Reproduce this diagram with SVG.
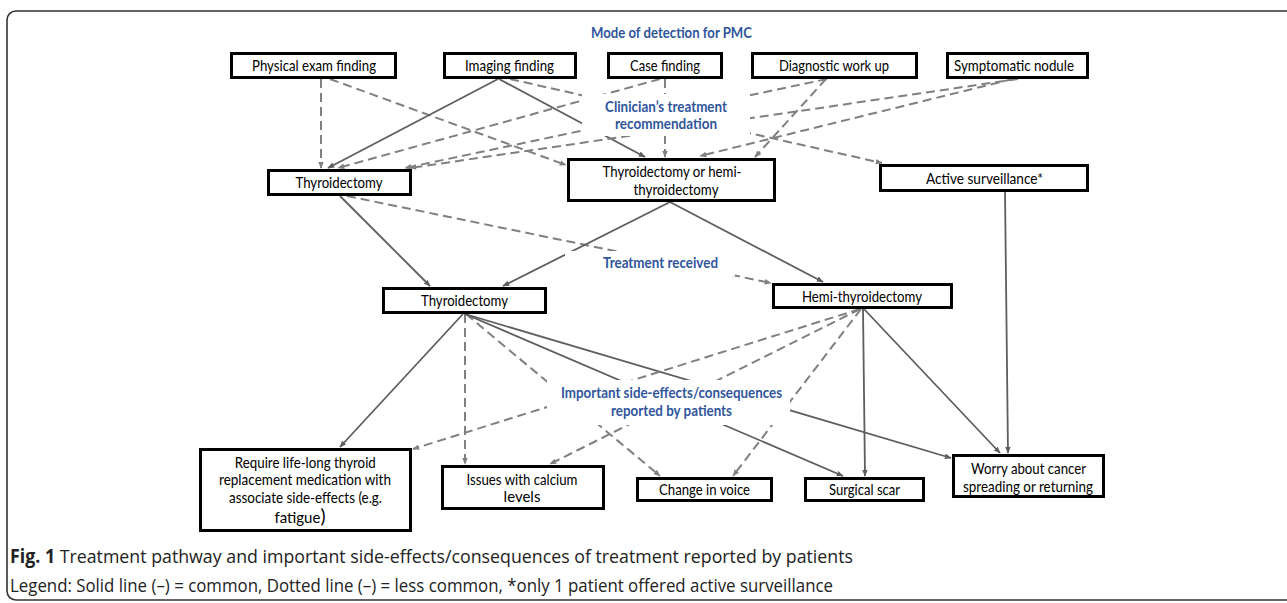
<svg xmlns="http://www.w3.org/2000/svg" width="1287" height="603" viewBox="0 0 1287 603">
<style>
.box{fill:#fff;stroke:#000;stroke-width:3}
.t{font-family:Lato,"Liberation Sans",sans-serif;font-size:15px;fill:#000;text-anchor:middle}
.lab{font-family:Lato,"Liberation Sans",sans-serif;font-size:15px;font-weight:bold;fill:#30569c;text-anchor:middle}
.s{stroke:#5e5e5e;stroke-width:1.8;fill:none}
.d{stroke:#808080;stroke-width:2;stroke-dasharray:9 5;fill:none}
.cap{font-family:"Open Sans","Liberation Sans",sans-serif;font-size:19px;fill:#222}
</style>
<defs>
<marker id="as" viewBox="0 0 10 10" refX="9" refY="5" markerWidth="7" markerHeight="7" markerUnits="userSpaceOnUse" orient="auto"><path d="M0,1 L10,5 L0,9 z" fill="#5e5e5e"/></marker>
<marker id="ad" viewBox="0 0 10 10" refX="9" refY="5" markerWidth="7" markerHeight="7" markerUnits="userSpaceOnUse" orient="auto"><path d="M0,1 L10,5 L0,9 z" fill="#808080"/></marker>
</defs>
<rect x="0" y="0" width="1287" height="603" fill="#fff"/>
<rect x="7" y="11" width="1300" height="589" rx="9" fill="none" stroke="#333" stroke-width="1.6"/>

<g id="connectors">
<line class="d" x1="321" y1="79" x2="321" y2="168" marker-end="url(#ad)"/>
<line class="d" x1="330" y1="79" x2="566" y2="165" marker-end="url(#ad)"/>
<line class="s" x1="498" y1="79" x2="328" y2="168" marker-end="url(#as)"/>
<line class="s" x1="499" y1="79" x2="645" y2="157" marker-end="url(#as)"/>
<line class="d" x1="510" y1="79" x2="882" y2="163" marker-end="url(#ad)"/>
<line class="d" x1="660" y1="79" x2="338" y2="168" marker-end="url(#ad)"/>
<line class="d" x1="665" y1="79" x2="665" y2="157" marker-end="url(#ad)"/>
<line class="d" x1="827" y1="79" x2="405" y2="168" marker-end="url(#ad)"/>
<line class="d" x1="826" y1="79" x2="755" y2="157" marker-end="url(#ad)"/>
<line class="d" x1="1018" y1="79" x2="410" y2="168" marker-end="url(#ad)"/>
<line class="d" x1="1013" y1="79" x2="700" y2="156" marker-end="url(#ad)"/>

<line class="s" x1="340" y1="196" x2="430" y2="286" marker-end="url(#as)"/>
<line class="d" x1="347" y1="196" x2="771" y2="283" marker-end="url(#ad)"/>
<line class="s" x1="670" y1="202" x2="503" y2="286" marker-end="url(#as)"/>
<line class="s" x1="670" y1="202" x2="823" y2="282" marker-end="url(#as)"/>
<line class="s" x1="1005" y1="192" x2="1008" y2="453" marker-end="url(#as)"/>

<line class="s" x1="463" y1="314" x2="340" y2="447" marker-end="url(#as)"/>
<line class="d" x1="465" y1="314" x2="465" y2="464" marker-end="url(#ad)"/>
<line class="d" x1="466" y1="314" x2="660" y2="476" marker-end="url(#ad)"/>
<line class="s" x1="465" y1="314" x2="843" y2="476" marker-end="url(#as)"/>
<line class="s" x1="465" y1="314" x2="951" y2="458" marker-end="url(#as)"/>
<line class="d" x1="860" y1="309" x2="413" y2="449" marker-end="url(#ad)"/>
<line class="d" x1="860" y1="309" x2="550" y2="464" marker-end="url(#ad)"/>
<line class="d" x1="861" y1="309" x2="733" y2="476" marker-end="url(#ad)"/>
<line class="s" x1="863" y1="309" x2="865" y2="476" marker-end="url(#as)"/>
<line class="s" x1="864" y1="309" x2="1000" y2="453" marker-end="url(#as)"/>
</g>

<g id="label-mode"><text class="lab" x="671.5" y="38" textLength="161" lengthAdjust="spacingAndGlyphs">Mode of detection for PMC</text></g>
<g id="label-clinician">
<rect x="582" y="94" width="168" height="42" fill="#fff"/>
<text class="lab" x="666" y="112" textLength="122" lengthAdjust="spacingAndGlyphs">Clinician’s treatment</text>
<text class="lab" x="666" y="129" textLength="102" lengthAdjust="spacingAndGlyphs">recommendation</text>
</g>
<g id="label-received">
<rect x="565" y="251" width="170" height="25" fill="#fff"/>
<text class="lab" x="660.5" y="268" textLength="115" lengthAdjust="spacingAndGlyphs">Treatment received</text>
</g>
<g id="label-side">
<rect x="547" y="380" width="243" height="45" fill="#fff"/>
<text class="lab" x="671.5" y="398" textLength="221" lengthAdjust="spacingAndGlyphs">Important side-effects/consequences</text>
<text class="lab" x="671.5" y="416" textLength="121" lengthAdjust="spacingAndGlyphs">reported by patients</text>
</g>

<g id="n-physical"><rect class="box" x="231.5" y="53.5" width="164" height="24"/><text class="t" x="314" y="70.5" textLength="124" lengthAdjust="spacingAndGlyphs">Physical exam finding</text></g>
<g id="n-imaging"><rect class="box" x="444.5" y="53.5" width="131" height="24"/><text class="t" x="509.5" y="70.5" textLength="89" lengthAdjust="spacingAndGlyphs">Imaging finding</text></g>
<g id="n-case"><rect class="box" x="608.5" y="53.5" width="113" height="24"/><text class="t" x="665" y="70.5" textLength="70" lengthAdjust="spacingAndGlyphs">Case finding</text></g>
<g id="n-diagnostic"><rect class="box" x="752.5" y="53.5" width="164" height="24"/><text class="t" x="834" y="70.5" textLength="110" lengthAdjust="spacingAndGlyphs">Diagnostic work up</text></g>
<g id="n-symptomatic"><rect class="box" x="947.5" y="53.5" width="140" height="24"/><text class="t" x="1014" y="70.5" textLength="120" lengthAdjust="spacingAndGlyphs">Symptomatic nodule</text></g>

<g id="n-thy-rec"><rect class="box" x="268.5" y="170.5" width="142" height="24"/><text class="t" x="339" y="187.5" textLength="87" lengthAdjust="spacingAndGlyphs">Thyroidectomy</text></g>
<g id="n-thy-or-hemi"><rect class="box" x="568.5" y="159.5" width="206" height="41"/><text class="t" x="672" y="177" textLength="139" lengthAdjust="spacingAndGlyphs">Thyroidectomy or hemi-</text><text class="t" x="676" y="194.5" textLength="85" lengthAdjust="spacingAndGlyphs">thyroidectomy</text></g>
<g id="n-active"><rect class="box" x="880.5" y="165.5" width="207" height="25"/><text class="t" x="984.5" y="183.5" textLength="117" lengthAdjust="spacingAndGlyphs">Active surveillance*</text></g>

<g id="n-thy-recv"><rect class="box" x="383.5" y="288.5" width="162" height="24"/><text class="t" x="464.5" y="306" textLength="87" lengthAdjust="spacingAndGlyphs">Thyroidectomy</text></g>
<g id="n-hemi"><rect class="box" x="773.5" y="284.5" width="178" height="23"/><text class="t" x="862" y="301.5" textLength="120" lengthAdjust="spacingAndGlyphs">Hemi-thyroidectomy</text></g>

<g id="n-require"><rect class="box" x="200.5" y="449.5" width="210" height="81"/>
<text class="t" x="305.3" y="467.5" textLength="141" lengthAdjust="spacingAndGlyphs">Require life-long thyroid</text>
<text class="t" x="305" y="485" textLength="172" lengthAdjust="spacingAndGlyphs">replacement medication with</text>
<text class="t" x="305.5" y="502.5" textLength="153" lengthAdjust="spacingAndGlyphs">associate side-effects (e.g.</text>
<text class="t" x="300" y="522.5">fatigue<tspan font-size="19">)</tspan></text></g>
<g id="n-calcium"><rect class="box" x="442.5" y="466.5" width="161" height="42"/><text class="t" x="522" y="484.5" textLength="111" lengthAdjust="spacingAndGlyphs">Issues with calcium</text><text class="t" x="522" y="501.5">levels</text></g>
<g id="n-voice"><rect class="box" x="637.5" y="478.5" width="134" height="22"/><text class="t" x="704.5" y="495" textLength="91" lengthAdjust="spacingAndGlyphs">Change in voice</text></g>
<g id="n-scar"><rect class="box" x="805.5" y="478.5" width="118" height="22"/><text class="t" x="864.5" y="495" textLength="71" lengthAdjust="spacingAndGlyphs">Surgical scar</text></g>
<g id="n-worry"><rect class="box" x="953.5" y="455.5" width="150" height="41"/><text class="t" x="1028.5" y="473.5" textLength="115" lengthAdjust="spacingAndGlyphs">Worry about cancer</text><text class="t" x="1028" y="491.5" textLength="130" lengthAdjust="spacingAndGlyphs">spreading or returning</text></g>

<g id="caption">
<text class="cap" x="10" y="563" textLength="843" lengthAdjust="spacingAndGlyphs"><tspan font-weight="bold">Fig. 1</tspan> Treatment pathway and important side-effects/consequences of treatment reported by patients</text>
<text class="cap" x="10" y="592" textLength="823" lengthAdjust="spacingAndGlyphs">Legend: Solid line (–) = common, Dotted line (–) = less common, *only 1 patient offered active surveillance</text>
</g>
</svg>
